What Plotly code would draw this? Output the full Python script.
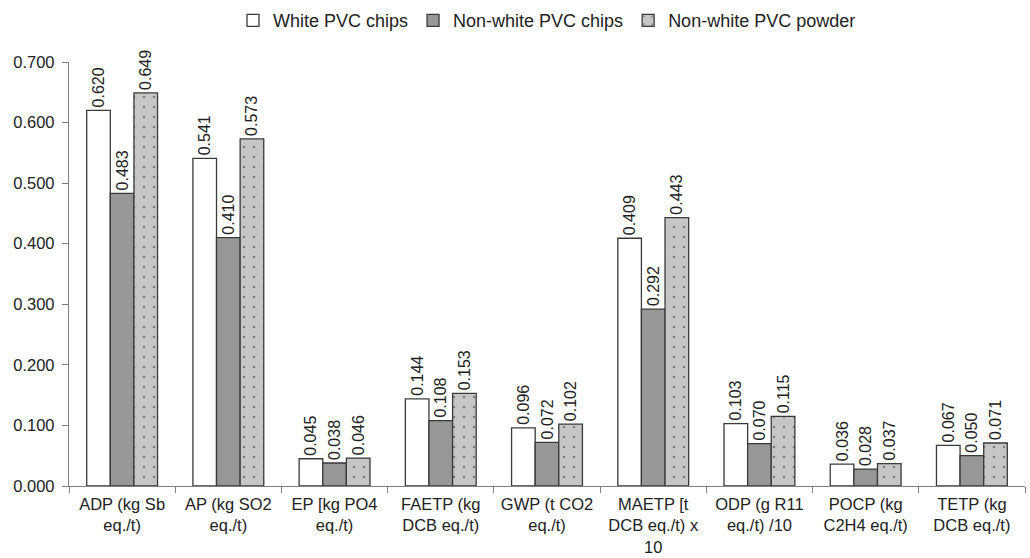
import plotly.graph_objects as go

categories = ["ADP (kg Sb<br>eq./t)", "AP (kg SO2<br>eq./t)", "EP [kg PO4<br>eq./t)",
              "FAETP (kg<br>DCB eq./t)", "GWP (t CO2<br>eq./t)", "MAETP [t<br>DCB eq./t) x<br>10",
              "ODP (g R11<br>eq./t) /10", "POCP (kg<br>C2H4 eq./t)", "TETP (kg<br>DCB eq./t)"]
white_chips = [0.620, 0.541, 0.045, 0.144, 0.096, 0.409, 0.103, 0.036, 0.067]
nonwhite_chips = [0.483, 0.410, 0.038, 0.108, 0.072, 0.292, 0.070, 0.028, 0.050]
nonwhite_powder = [0.649, 0.573, 0.046, 0.153, 0.102, 0.443, 0.115, 0.037, 0.071]
y_ticks = [0.0, 0.1, 0.2, 0.3, 0.4, 0.5, 0.6, 0.7]

font = "Liberation Sans, Arial, sans-serif"
fig = go.Figure()
common = dict(textposition="outside", textangle=-90, texttemplate="%{y:.3f}",
              cliponaxis=False, textfont=dict(size=16, color="#222222", family=font))
fig.add_trace(go.Bar(name="White PVC chips", x=categories, y=white_chips,
                     marker=dict(color="white", line=dict(color="#3a3a3a", width=1.3)), **common))
fig.add_trace(go.Bar(name="Non-white PVC chips", x=categories, y=nonwhite_chips,
                     marker=dict(color="#979797", line=dict(color="#3a3a3a", width=1.3)), **common))
fig.add_trace(go.Bar(name="Non-white PVC powder", x=categories, y=nonwhite_powder,
                     marker=dict(color="#c6c6c6", line=dict(color="#3a3a3a", width=1.3),
                                 pattern=dict(shape=".", bgcolor="#c6c6c6", fgcolor="#333333",
                                              size=10, solidity=0.05)), **common))

fig.update_layout(
    width=1030, height=558,
    barmode="group", bargap=0.333, bargroupgap=0,
    uniformtext=dict(minsize=16, mode="show"),
    plot_bgcolor="white", paper_bgcolor="white",
    margin=dict(l=69, r=5, t=62, b=72),
    font=dict(family=font, size=17, color="#222222"),
    legend=dict(orientation="h", x=0.5, xanchor="center", y=0.996, yanchor="top",
                yref="container", font=dict(size=18), itemwidth=30, traceorder="normal",
                tracegroupgap=0),
    showlegend=True,
)
fig.update_xaxes(showline=True, linecolor="#808080", linewidth=1.3, ticks="outside",
                 tickson="boundaries", ticklen=6, tickcolor="#808080", tickwidth=1.3,
                 ticklabelstandoff=3, automargin=False,
                 tickfont=dict(size=16.5, color="#222222"), showgrid=False)
fig.update_yaxes(range=[0, 0.7], tickvals=y_ticks, tickformat=".3f", showline=True,
                 linecolor="#808080", linewidth=1.3, ticks="outside", ticklen=6,
                 tickcolor="#808080", tickwidth=1.3, showgrid=False, zeroline=False,
                 ticklabelstandoff=4, automargin=False,
                 tickfont=dict(size=16.5, color="#222222"))
fig.write_html("out.html")
